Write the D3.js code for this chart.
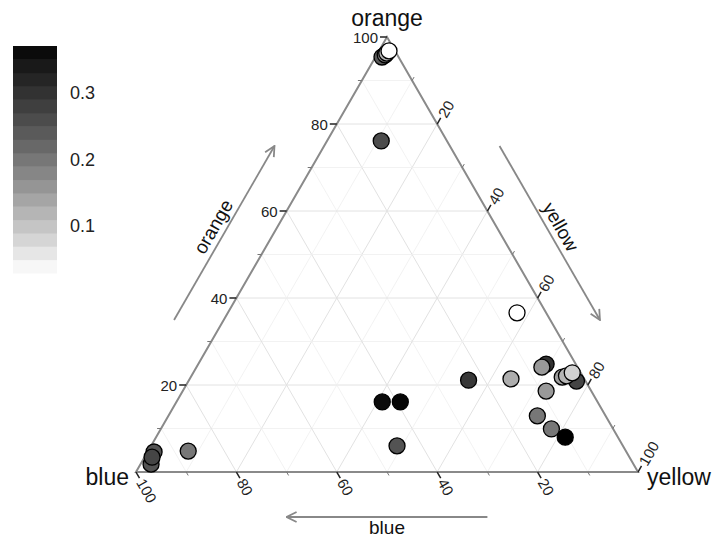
<!DOCTYPE html>
<html>
<head>
<meta charset="utf-8">
<script src="https://cdn.jsdelivr.net/npm/d3@7"></script>
<style>
body { margin: 0; background: #fff; }
text { font-family: "Liberation Sans", Arial, sans-serif; }
</style>
</head>
<body>
<script>
// composition of each point in percent (orange + yellow + blue = 100) and its fill value
var orangeVals = [95.4, 95.9, 96.3, 96.8, 76.1, 36.6, 24.8, 24.1, 21.4, 21.1, 18.6, 20.9, 21.8, 22.1, 22.8, 12.9, 9.9, 8.0, 16.1, 16.1, 6.0, 4.8, 1.8, 4.6, 3.4];
var yellowVals = [1.3, 1.7, 1.8, 2.0, 10.8, 57.6, 69.3, 68.8, 64.0, 55.7, 72.4, 77.3, 74.0, 74.7, 75.5, 73.5, 77.8, 81.5, 41.0, 44.6, 49.0, 8.0, 2.1, 1.3, 1.5];
var blueVals   = [3.3, 2.4, 1.9, 1.2, 13.1, 5.8, 5.9, 7.1, 14.6, 23.2, 9.0, 1.8, 4.2, 3.2, 1.7, 13.6, 12.3, 10.5, 42.9, 39.3, 45.0, 87.2, 96.1, 94.1, 95.1];
var fillVals   = [0.24, 0.18, 0.12, 0.03, 0.26, 0.03, 0.30, 0.155, 0.13, 0.29, 0.155, 0.27, 0.15, 0.12, 0.085, 0.20, 0.20, 0.37, 0.36, 0.365, 0.25, 0.20, 0.25, 0.25, 0.27];

var majorTicks = [20, 40, 60, 80, 100];
var minorTicks = [10, 30, 50, 70, 90];
var gridVals = [10, 20, 30, 40, 50, 60, 70, 80, 90];
var legendTicks = [0.1, 0.2, 0.3];
var fillDomain = [0.03, 0.37];

var W = 714, H = 537;
var svg = d3.select("body").append("svg").attr("width", W).attr("height", H);

// ternary projection: x from yellow + orange/2, y from orange
var xs = d3.scaleLinear().domain([0, 100]).range([136, 638]);
var ys = d3.scaleLinear().domain([0, 100]).range([472, 37]);
function proj(o, yl) { return [xs(yl + o / 2), ys(o)]; }

var color = d3.scaleLinear().domain(fillDomain).range(["#ffffff", "#000000"]).interpolate(d3.interpolateLab).clamp(true);

var top_ = proj(100, 0), left_ = proj(0, 0), right_ = proj(0, 100);

// grid lines
var grid = svg.append("g");
gridVals.forEach(function(v) {
  var major = v % 20 == 0;
  var segs = [
    [proj(v, 0), proj(v, 100 - v)],          // orange
    [proj(0, v), proj(100 - v, v)],          // yellow
    [proj(0, 100 - v), proj(100 - v, 0)]     // blue
  ];
  segs.forEach(function(s) {
    grid.append("line")
      .attr("x1", s[0][0]).attr("y1", s[0][1]).attr("x2", s[1][0]).attr("y2", s[1][1])
      .attr("stroke", major ? "#e2e2e2" : "#efefef").attr("stroke-width", major ? 1 : 0.8);
  });
});

// triangle border
svg.append("path")
  .attr("d", "M" + left_ + "L" + top_ + "L" + right_ + "Z")
  .attr("fill", "none").attr("stroke", "#8a8a8a").attr("stroke-width", 2);

// axis ticks and labels
var s3 = Math.sqrt(3) / 2;
var axes = [
  { pos: function(v) { return proj(v, 0); }, dir: [-1, 0], rot: 0, anchor: "end" },
  { pos: function(v) { return proj(100 - v, v); }, dir: [0.5, -s3], rot: -60, anchor: "start" },
  { pos: function(v) { return proj(0, 100 - v); }, dir: [0.5, s3], rot: 60, anchor: "start" }
];
var ticks = svg.append("g");
axes.forEach(function(a) {
  minorTicks.forEach(function(v) {
    var p = a.pos(v);
    ticks.append("line")
      .attr("x1", p[0]).attr("y1", p[1])
      .attr("x2", p[0] + a.dir[0] * 4).attr("y2", p[1] + a.dir[1] * 4)
      .attr("stroke", "#777").attr("stroke-width", 1);
  });
  majorTicks.forEach(function(v) {
    var p = a.pos(v);
    ticks.append("line")
      .attr("x1", p[0]).attr("y1", p[1])
      .attr("x2", p[0] + a.dir[0] * 7).attr("y2", p[1] + a.dir[1] * 7)
      .attr("stroke", "#222").attr("stroke-width", 1.5);
    var lx = p[0] + a.dir[0] * 9, ly = p[1] + a.dir[1] * 9;
    ticks.append("text")
      .attr("transform", "translate(" + lx + "," + ly + ") rotate(" + a.rot + ")")
      .attr("text-anchor", a.anchor).attr("dominant-baseline", "central")
      .attr("font-size", 15).attr("fill", "#222")
      .text(v);
  });
});

// vertex labels
svg.append("text").attr("x", top_[0]).attr("y", 26).attr("text-anchor", "middle")
  .attr("font-size", 23).attr("fill", "#111").text("orange");
svg.append("text").attr("x", left_[0] - 7).attr("y", 485).attr("text-anchor", "end")
  .attr("font-size", 23).attr("fill", "#111").text("blue");
svg.append("text").attr("x", right_[0] + 9).attr("y", 485).attr("text-anchor", "start")
  .attr("font-size", 23).attr("fill", "#111").text("yellow");

// direction arrows alongside each edge
var defs = svg.append("defs");
defs.append("marker").attr("id", "arr").attr("viewBox", "0 0 12 12")
  .attr("refX", 11).attr("refY", 6).attr("markerWidth", 12).attr("markerHeight", 12)
  .attr("markerUnits", "userSpaceOnUse").attr("orient", "auto")
  .append("path").attr("d", "M1,1 L11,6 L1,11").attr("fill", "none")
  .attr("stroke", "#888").attr("stroke-width", 1.8);

function along(a, b, t, n, nrm) {
  return [a[0] + (b[0] - a[0]) * t + nrm[0] * n, a[1] + (b[1] - a[1]) * t + nrm[1] * n];
}
var arrows = [
  { a: left_, b: top_, nrm: [-s3, -0.5], off: 43, lab: "orange", loff: 49, rot: -60 },
  { a: top_, b: right_, nrm: [s3, -0.5], off: 43, lab: "yellow", loff: 49, rot: 60 },
  { a: right_, b: left_, nrm: [0, 1], off: 45, lab: "blue", loff: 62, rot: 0 }
];
arrows.forEach(function(d) {
  var p0 = along(d.a, d.b, 0.3, d.off, d.nrm), p1 = along(d.a, d.b, 0.7, d.off, d.nrm);
  svg.append("line").attr("x1", p0[0]).attr("y1", p0[1]).attr("x2", p1[0]).attr("y2", p1[1])
    .attr("stroke", "#888").attr("stroke-width", 1.8).attr("marker-end", "url(#arr)");
  var lp = along(d.a, d.b, 0.5, d.loff, d.nrm);
  svg.append("text")
    .attr("transform", "translate(" + lp[0] + "," + lp[1] + ") rotate(" + d.rot + ")")
    .attr("text-anchor", "middle").attr("font-size", 19).attr("fill", "#111")
    .text(d.lab);
});

// points
svg.append("g").selectAll("circle")
  .data(d3.range(orangeVals.length))
  .enter().append("circle")
  .attr("cx", function(i) { return proj(orangeVals[i], yellowVals[i])[0]; })
  .attr("cy", function(i) { return proj(orangeVals[i], yellowVals[i])[1]; })
  .attr("r", 8)
  .attr("fill", function(i) { return color(fillVals[i]); })
  .attr("stroke", "#000").attr("stroke-width", 1.3);

// colour bar legend
var ly = d3.scaleLinear().domain(fillDomain).range([273, 46]);
var nb = 17, step = (fillDomain[1] - fillDomain[0]) / nb;
var leg = svg.append("g");
leg.selectAll("rect")
  .data(d3.range(nb))
  .enter().append("rect")
  .attr("x", 13).attr("width", 44)
  .attr("y", function(i) { return ly(fillDomain[0] + (i + 1) * step); })
  .attr("height", function(i) { return ly(fillDomain[0] + i * step) - ly(fillDomain[0] + (i + 1) * step) + 0.5; })
  .attr("fill", function(i) { return color(fillDomain[0] + (i + 0.5) * step); });
leg.selectAll("text")
  .data(legendTicks)
  .enter().append("text")
  .attr("x", 70).attr("y", function(d) { return ly(d); })
  .attr("dominant-baseline", "central").attr("font-size", 18).attr("fill", "#222")
  .text(function(d) { return d.toFixed(1); });
</script>
</body>
</html>
